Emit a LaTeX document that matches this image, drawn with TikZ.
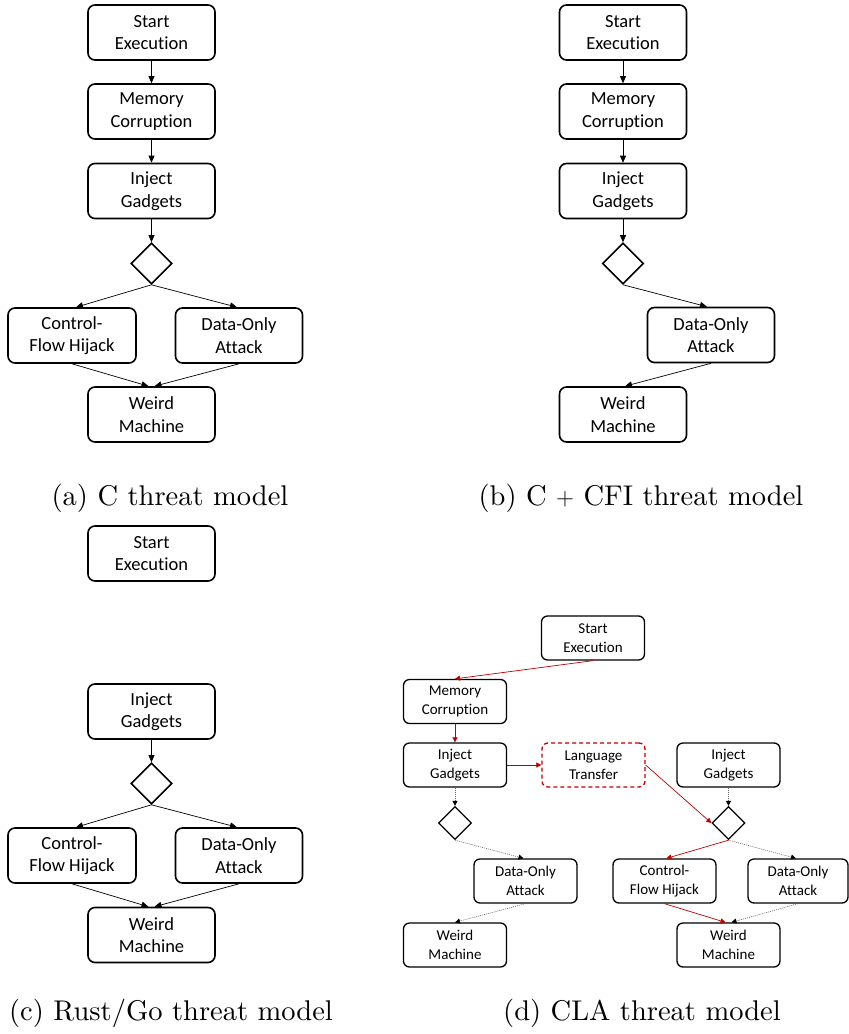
\documentclass[tikz,border=0pt]{standalone}
\usepackage{fontspec}
\newfontfamily\boxfont[Ligatures=NoCommon]{Carlito}
\newfontfamily\capfont{lmroman10-regular.otf}
\usetikzlibrary{arrows.meta,shapes.geometric}
\definecolor{attackred}{RGB}{192,0,0}

\begin{document}
\begin{tikzpicture}[x=1pt,y=-1pt,
  box/.style={draw, line width=1.6pt, rounded corners=7pt, minimum width=127pt,
    minimum height=55pt, align=center, inner sep=0pt,
    font=\boxfont\fontsize{18.5}{22.5}\selectfont},
  sbox/.style={draw, line width=1.3pt, rounded corners=6pt, minimum width=103pt,
    minimum height=44pt, align=center, inner sep=0pt,
    font=\boxfont\fontsize{15}{18.5}\selectfont},
  dia/.style={draw, diamond, line width=1.6pt, minimum width=41pt,
    minimum height=41pt, inner sep=0pt},
  sdia/.style={draw, diamond, line width=1.3pt, minimum width=33pt,
    minimum height=33pt, inner sep=0pt},
  flow/.style={-{Triangle[length=7pt,width=6pt]}, line width=0.7pt},
  hot/.style={-{Triangle[length=5pt,width=5pt]}, line width=0.7pt, draw=attackred},
  weak/.style={-{Triangle[length=5pt,width=5pt,color=black]}, line width=0.6pt,
    draw=black!60, dash pattern=on 1pt off 1pt},
  subcap/.style={anchor=base, font=\capfont\fontsize{28.5}{34}\selectfont}
]
\useasboundingbox (0,0) rectangle (849,1034);

% (a) C threat model
\node[box] (sa) at (151.5,32.5) {Start\\Execution};
\node[box] (ma) at (151.5,111.5) {Memory\\Corruption};
\node[box] (ia) at (151.5,191) {Inject\\Gadgets};
\node[dia] (da) at (151.5,263.5) {};
\node[box, minimum width=128pt] (ca) at (72,335.5) {Control-\\Flow Hijack};
\node[box] (oa) at (239,335.5) {Data-Only\\Attack};
\node[box] (wa) at (151.5,414.5) {Weird\\Machine};
\draw[flow] (sa) -- (ma);
\draw[flow] (ma) -- (ia);
\draw[flow] (ia) -- (da);
\draw[flow] (da.south) -- ([xshift=4pt]ca.north);
\draw[flow] (da.south) -- ([xshift=-2pt]oa.north);
\draw[flow] (ca.south) -- ([xshift=-3pt]wa.north);
\draw[flow] (oa.south) -- ([xshift=3pt]wa.north);
\node[subcap] (capa) at (170,505) {(a) C threat model};

% (b) C + CFI threat model
\node[box] (sb) at (623,32.5) {Start\\Execution};
\node[box] (mb) at (623,111.5) {Memory\\Corruption};
\node[box] (ib) at (623,191) {Inject\\Gadgets};
\node[dia] (db) at (623,263.5) {};
\node[box] (ob) at (711,335) {Data-Only\\Attack};
\node[box] (wb) at (623,414.5) {Weird\\Machine};
\draw[flow] (sb) -- (mb);
\draw[flow] (mb) -- (ib);
\draw[flow] (ib) -- (db);
\draw[flow] (db.south) -- ([xshift=-4pt]ob.north);
\draw[flow] (ob.south) -- ([xshift=2pt]wb.north);
\node[subcap] (capb) at (641,505) {(b) C $+$ CFI threat model};

% (c) Rust/Go threat model
\node[box] (sc) at (151.5,553.5) {Start\\Execution};
\node[box] (ic) at (151.5,711.5) {Inject\\Gadgets};
\node[dia] (dc) at (151.5,783.5) {};
\node[box, minimum width=128pt] (cc) at (72,855.5) {Control-\\Flow Hijack};
\node[box] (oc) at (239,855.5) {Data-Only\\Attack};
\node[box] (wc) at (151.5,935) {Weird\\Machine};
\draw[flow] (ic) -- (dc);
\draw[flow] (dc.south) -- ([xshift=4pt]cc.north);
\draw[flow] (dc.south) -- ([xshift=-2pt]oc.north);
\draw[flow] (cc.south) -- ([xshift=-3pt]wc.north);
\draw[flow] (oc.south) -- ([xshift=3pt]wc.north);
\node[subcap] (capc) at (171,1020) {(c) Rust/Go threat model};

% (d) CLA threat model
\node[sbox] (sd) at (593,638) {Start\\Execution};
\node[sbox] (md) at (455,701.5) {Memory\\Corruption};
\node[sbox] (id) at (455,765) {Inject\\Gadgets};
\node[sbox, draw=attackred, dashed, dash pattern=on 4pt off 3pt] (ld) at (593.5,765) {Language\\Transfer};
\node[sbox] (jd) at (728.5,765) {Inject\\Gadgets};
\node[sdia] (pd) at (455,823) {};
\node[sdia] (qd) at (728.5,823) {};
\node[sbox] (od) at (525.5,881) {Data-Only\\Attack};
\node[sbox] (cd) at (664.5,881) {Control-\\Flow Hijack};
\node[sbox, minimum width=100pt] (rd) at (798,881) {Data-Only\\Attack};
\node[sbox] (wd) at (455,945) {Weird\\Machine};
\node[sbox] (xd) at (728.5,945) {Weird\\Machine};
\draw[hot] (sd.south) -- (md.north);
\draw[hot] (md) -- (id);
\draw[hot] (id) -- (ld);
\draw[hot] (ld.east) -- (qd.west);
\draw[weak] (id) -- (pd);
\draw[weak] (jd) -- (qd);
\draw[weak] (pd.south) -- ([xshift=-2pt]od.north);
\draw[weak] (od.south) -- (wd.north);
\draw[hot] (qd.south) -- ([xshift=2pt]cd.north);
\draw[weak] (qd.south) -- ([xshift=-2pt]rd.north);
\draw[hot] (cd.south) -- ([xshift=-3pt]xd.north);
\draw[weak] (rd.south) -- ([xshift=3pt]xd.north);
\node[subcap] (capd) at (642,1020) {(d) CLA threat model};
\end{tikzpicture}
\end{document}
